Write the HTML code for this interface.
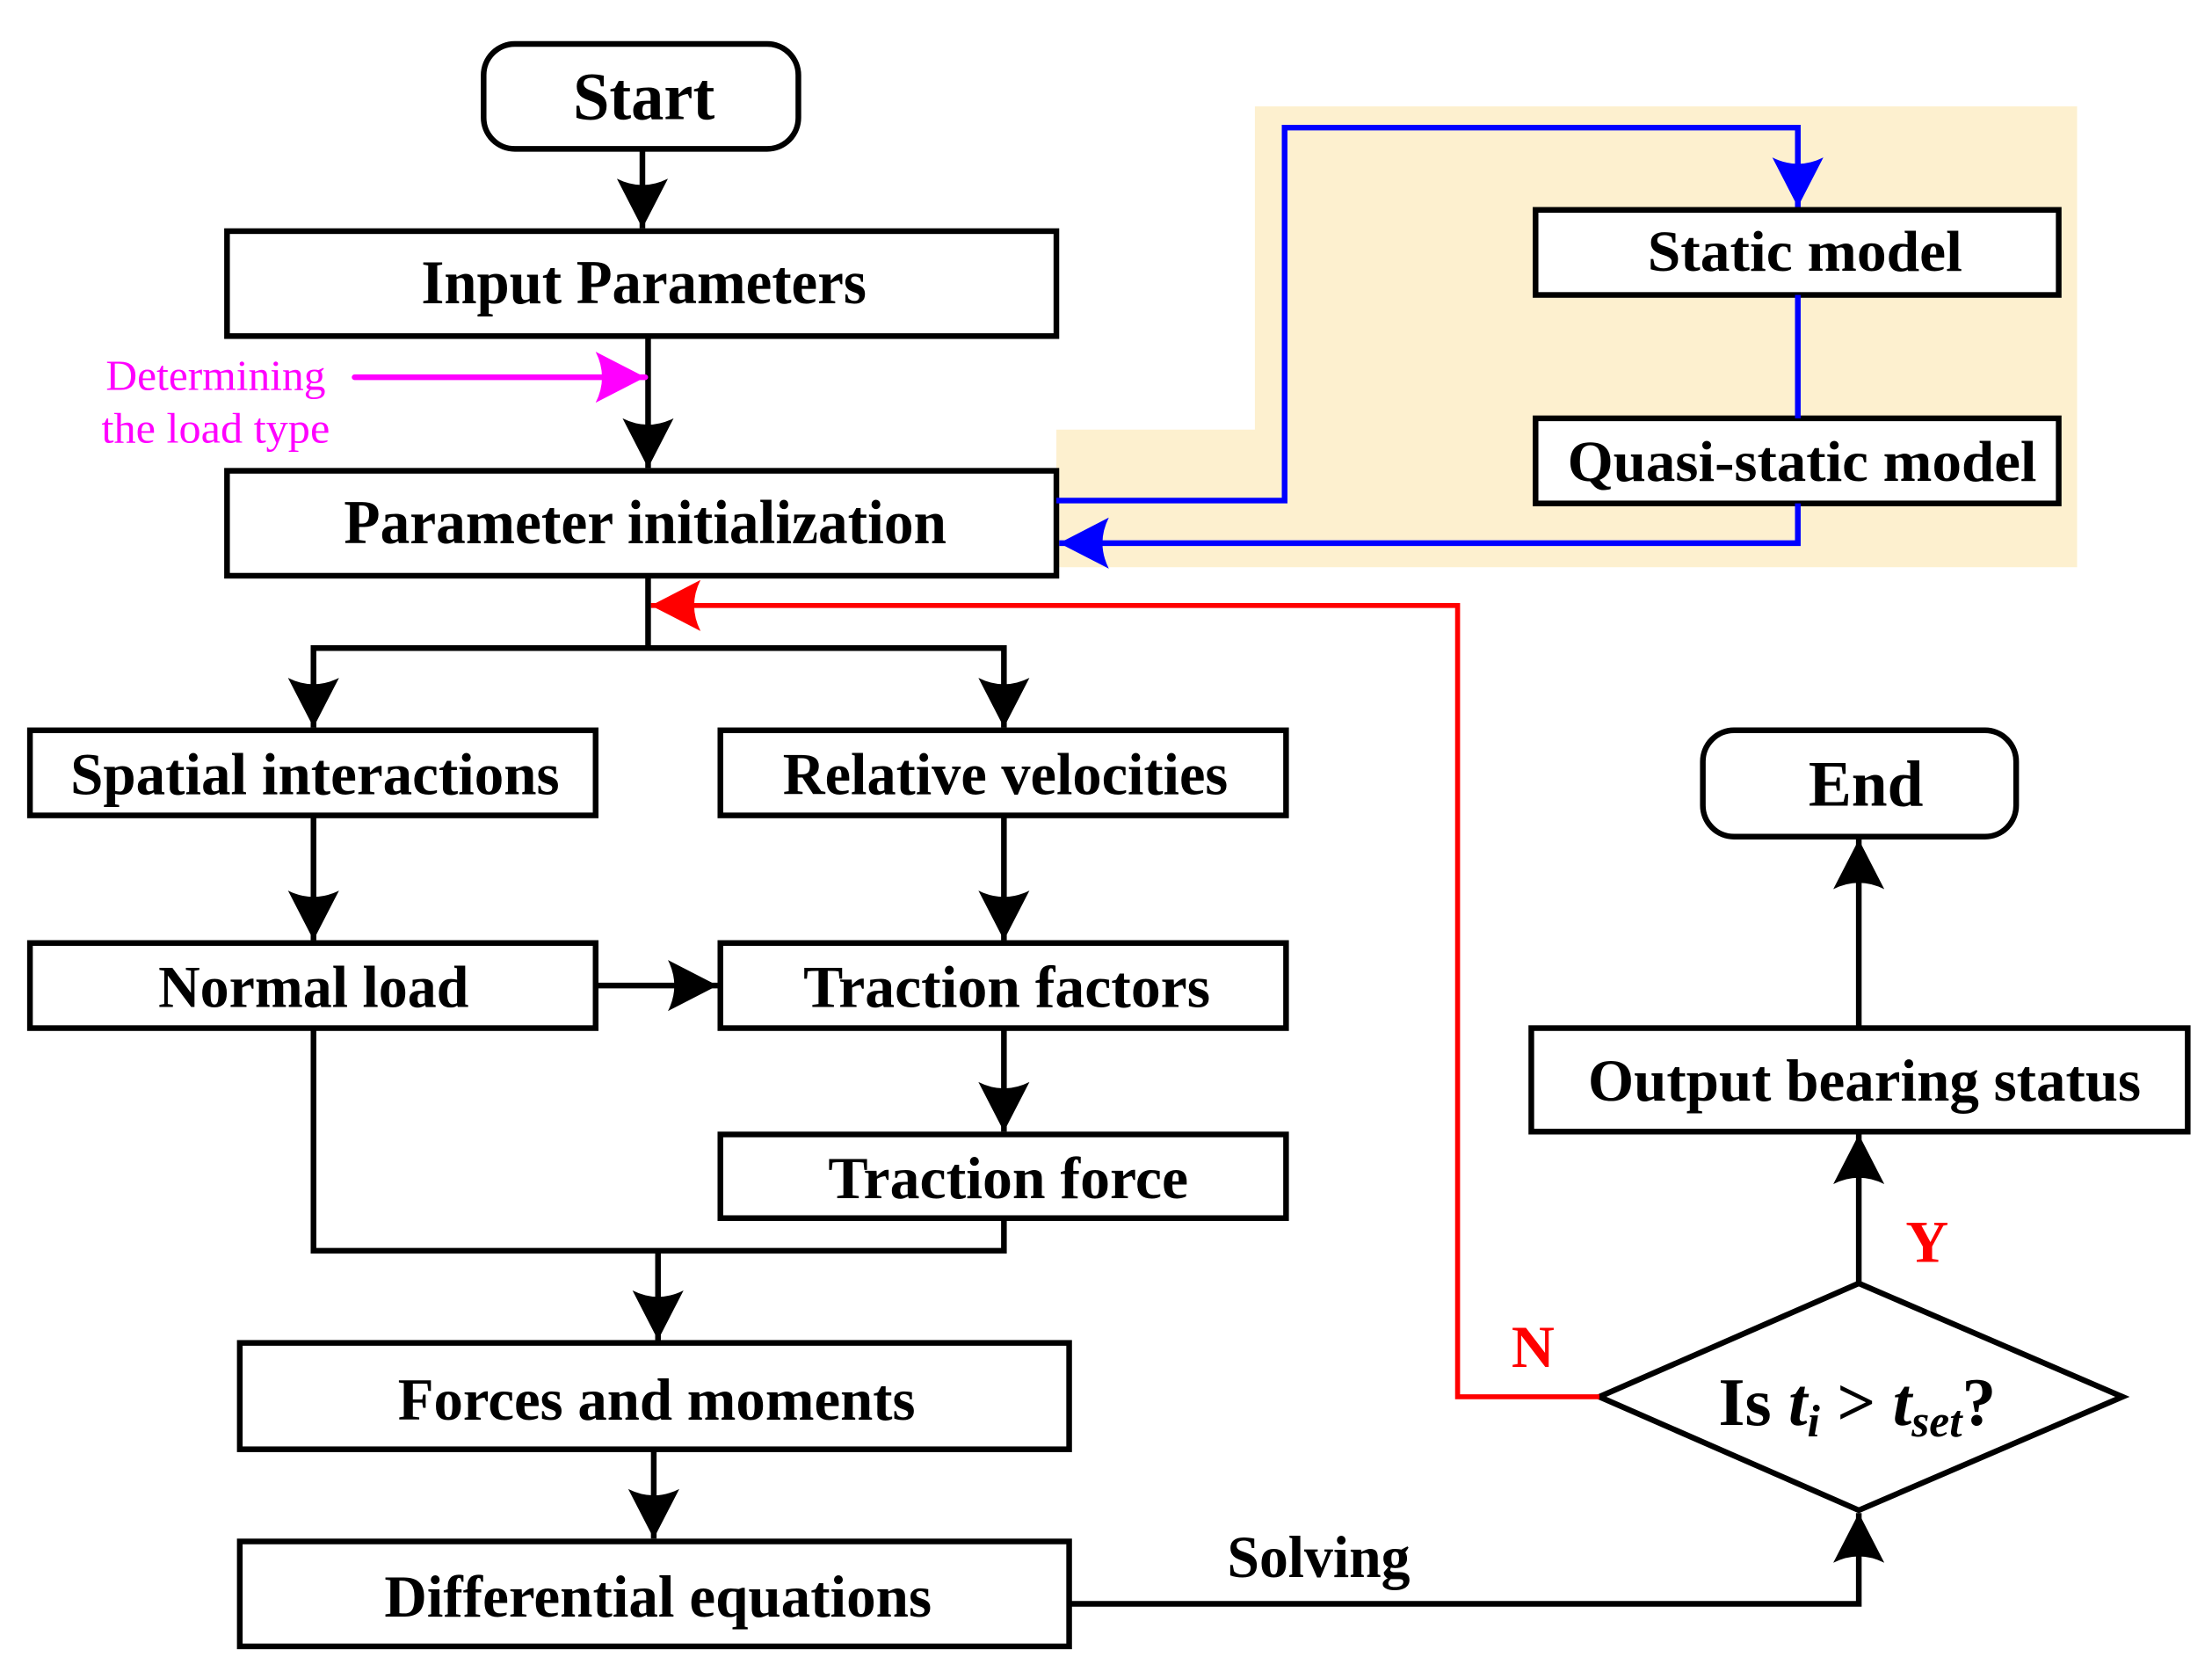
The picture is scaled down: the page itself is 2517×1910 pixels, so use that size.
<!DOCTYPE html>
<html><head><meta charset="utf-8"><style>
html,body{margin:0;padding:0;background:#fff;}
svg{display:block;}
text{font-family:"Liberation Serif",serif;font-weight:bold;}
</style></head><body>
<svg width="2517" height="1910" viewBox="0 0 1560 1184" xmlns="http://www.w3.org/2000/svg">
<defs>
<marker id="ak" markerUnits="userSpaceOnUse" markerWidth="40" markerHeight="40" viewBox="-36 -20 40 40" refX="0" refY="0" orient="auto"><path d="M0,0 L-35,-18 Q-26,0 -35,18 Z" fill="#000"/></marker>
<marker id="ab" markerUnits="userSpaceOnUse" markerWidth="40" markerHeight="40" viewBox="-36 -20 40 40" refX="0" refY="0" orient="auto"><path d="M0,0 L-35,-18 Q-26,0 -35,18 Z" fill="#0000ff"/></marker>
<marker id="ar" markerUnits="userSpaceOnUse" markerWidth="40" markerHeight="40" viewBox="-36 -20 40 40" refX="0" refY="0" orient="auto"><path d="M0,0 L-35,-18 Q-26,0 -35,18 Z" fill="#ff0000"/></marker>
<marker id="am" markerUnits="userSpaceOnUse" markerWidth="40" markerHeight="40" viewBox="-36 -20 40 40" refX="0" refY="0" orient="auto"><path d="M0,0 L-35,-18 Q-26,0 -35,18 Z" fill="#ff00ff"/></marker>
</defs>
<polygon points="885,75 1465,75 1465,400 745,400 745,303 885,303" fill="#fdf0cf"/>

<g fill="#fff" stroke="#000" stroke-width="4">
<rect x="341" y="31" width="222" height="74" rx="22"/>
<rect x="160" y="163" width="585" height="74"/>
<rect x="160" y="332" width="585" height="74"/>
<rect x="1083" y="148" width="369" height="60"/>
<rect x="1083" y="295" width="369" height="60"/>
<rect x="21" y="515" width="399" height="60"/>
<rect x="508" y="515" width="399" height="60"/>
<rect x="21" y="665" width="399" height="60"/>
<rect x="508" y="665" width="399" height="60"/>
<rect x="508" y="800" width="399" height="59"/>
<rect x="169" y="947" width="585" height="75"/>
<rect x="169" y="1087" width="585" height="74"/>
<rect x="1080" y="725" width="463" height="73"/>
<rect x="1201" y="515" width="221" height="75" rx="22"/>
<polygon points="1128,985 1311,905 1497,985 1311,1065"/>
</g>

<g fill="none" stroke="#000" stroke-width="4">
<line x1="453" y1="105" x2="453" y2="161" marker-end="url(#ak)"/>
<line x1="457" y1="237" x2="457" y2="330" marker-end="url(#ak)"/>
<polyline points="457,406 457,457"/>
<polyline points="221,513 221,457 708,457 708,513" marker-end="url(#ak)"/>
<line x1="221" y1="470" x2="221" y2="513" marker-end="url(#ak)"/>
<line x1="221" y1="575" x2="221" y2="663" marker-end="url(#ak)"/>
<line x1="708" y1="575" x2="708" y2="663" marker-end="url(#ak)"/>
<line x1="420" y1="695" x2="506" y2="695" marker-end="url(#ak)"/>
<line x1="708" y1="725" x2="708" y2="798" marker-end="url(#ak)"/>
<polyline points="221,725 221,882 708,882 708,859"/>
<line x1="464" y1="882" x2="464" y2="945" marker-end="url(#ak)"/>
<line x1="461" y1="1022" x2="461" y2="1085" marker-end="url(#ak)"/>
<polyline points="754,1131 1311,1131 1311,1067" marker-end="url(#ak)"/>
<line x1="1311" y1="905" x2="1311" y2="800" marker-end="url(#ak)"/>
<line x1="1311" y1="725" x2="1311" y2="592" marker-end="url(#ak)"/>
</g>

<line x1="250" y1="266" x2="455" y2="266" stroke="#ff00ff" stroke-width="4" stroke-linecap="round" marker-end="url(#am)"/>
<g fill="none" stroke="#0000ff" stroke-width="4">
<polyline points="745,353 906,353 906,90 1268,90 1268,146" marker-end="url(#ab)"/>
<line x1="1268" y1="208" x2="1268" y2="295"/>
<polyline points="1268,355 1268,383 747,383" marker-end="url(#ab)"/>
</g>
<polyline points="1128,985 1028,985 1028,427 459,427" fill="none" stroke="#ff0000" stroke-width="3.5" marker-end="url(#ar)"/>

<g text-anchor="middle" fill="#000">
<text x="454" y="84" font-size="48" textLength="100" lengthAdjust="spacingAndGlyphs">Start</text>
<text x="454" y="214" font-size="44" textLength="314" lengthAdjust="spacingAndGlyphs">Input Parameters</text>
<text x="455" y="383" font-size="44" textLength="425" lengthAdjust="spacingAndGlyphs">Parameter initialization</text>
<text x="1273" y="191" font-size="41" textLength="222" lengthAdjust="spacingAndGlyphs">Static model</text>
<text x="1271" y="339" font-size="41" textLength="331" lengthAdjust="spacingAndGlyphs">Quasi-static model</text>
<text x="222" y="560" font-size="42" textLength="345" lengthAdjust="spacingAndGlyphs">Spatial interactions</text>
<text x="709" y="560" font-size="42" textLength="314" lengthAdjust="spacingAndGlyphs">Relative velocities</text>
<text x="221" y="710" font-size="42" textLength="219" lengthAdjust="spacingAndGlyphs">Normal load</text>
<text x="710" y="710" font-size="42" textLength="287" lengthAdjust="spacingAndGlyphs">Traction factors</text>
<text x="711" y="845" font-size="42" textLength="254" lengthAdjust="spacingAndGlyphs">Traction force</text>
<text x="463" y="1001" font-size="42" textLength="365" lengthAdjust="spacingAndGlyphs">Forces and moments</text>
<text x="464" y="1140" font-size="42" textLength="386" lengthAdjust="spacingAndGlyphs">Differential equations</text>
<text x="1315" y="776" font-size="42" textLength="390" lengthAdjust="spacingAndGlyphs">Output bearing status</text>
<text x="1316" y="568" font-size="46" textLength="81" lengthAdjust="spacingAndGlyphs">End</text>
<text x="930" y="1112" font-size="42" textLength="129" lengthAdjust="spacingAndGlyphs">Solving</text>
</g>
<text x="1212" y="1005" font-size="48">Is <tspan font-style="italic">t</tspan><tspan font-style="italic" font-size="32" dy="8">i</tspan><tspan dy="-8"> &gt; </tspan><tspan font-style="italic">t</tspan><tspan font-style="italic" font-size="32" dy="8">set</tspan><tspan dy="-8">?</tspan></text>
<text x="1066" y="964" font-size="42" fill="#ff0000">N</text>
<text x="1344" y="890" font-size="42" fill="#ff0000">Y</text>
<g fill="#ff00ff" font-size="30" text-anchor="middle">
<text x="152" y="275" style="font-weight:normal" textLength="155" lengthAdjust="spacingAndGlyphs">Determining</text>
<text x="152" y="312" style="font-weight:normal" textLength="161" lengthAdjust="spacingAndGlyphs">the load type</text>
</g>
</svg>
</body></html>
